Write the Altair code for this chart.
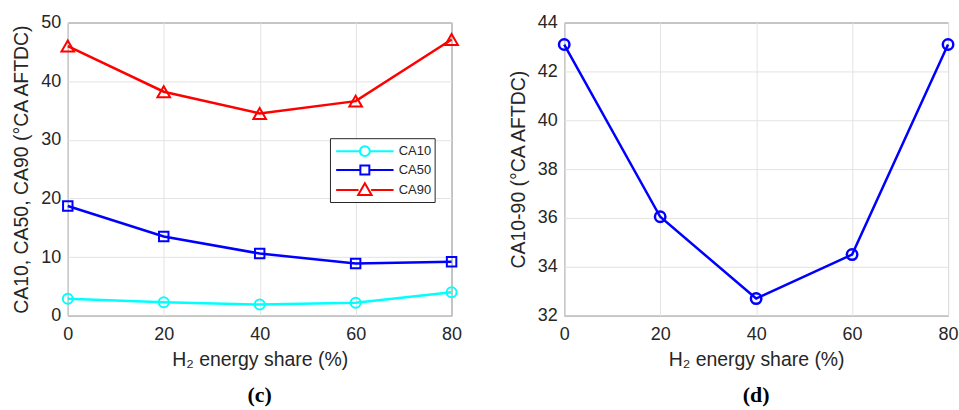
import altair as alt
import pandas as pd

share = [0, 20, 40, 60, 80]
ca10 = [2.9, 2.3, 1.9, 2.2, 4.0]
ca50 = [18.7, 13.5, 10.6, 8.9, 9.2]
ca90 = [46.0, 38.2, 34.5, 36.6, 47.1]
ca10_90 = [43.1, 36.05, 32.7, 34.5, 43.1]

series_names = ["CA10", "CA50", "CA90"]
series_colors = ["#00ffff", "#0000ff", "#ff0000"]
marker_shapes = ["circle", "square", "triangle-up"]
marker_sizes = [100, 90, 160]

# legend symbols: line with marker in the middle (custom SVG paths)
legend_paths = [
    "M-3.2,0L-0.55,0M0.55,0L3.2,0M0.55,0A0.55,0.55,0,1,1,-0.55,0A0.55,0.55,0,1,1,0.55,0Z",
    "M-3.2,0L-0.5,0M0.5,0L3.2,0M-0.5,-0.5L0.5,-0.5L0.5,0.5L-0.5,0.5Z",
    "M-3.2,0L-0.7,0M0.7,0L3.2,0M0,-0.75L0.75,0.55L-0.75,0.55Z",
]

rows = []
for name, vals in zip(series_names, [ca10, ca50, ca90]):
    for s, v in zip(share, vals):
        rows.append({"share": s, "value": v, "series": name, "lg": name})
df_left = pd.DataFrame(rows)
df_right = pd.DataFrame({"share": share, "value": ca10_90})

FONT = "Liberation Sans"
TXT = "#262626"

x_enc = alt.X("share:Q", scale=alt.Scale(domain=[0, 80], nice=False),
              axis=alt.Axis(values=share, title="H₂ energy share (%)", grid=True,
                            labelPadding=10, titlePadding=7))

color_scale = alt.Scale(domain=series_names, range=series_colors)

base_l = alt.Chart(df_left)
y_l = alt.Y("value:Q", scale=alt.Scale(domain=[0, 50], nice=False),
            axis=alt.Axis(values=[0, 10, 20, 30, 40, 50], title="CA10, CA50, CA90 (°CA AFTDC)",
                          labelPadding=7, titlePadding=9))

lines_l = base_l.mark_line(strokeWidth=2.5).encode(
    x=x_enc, y=y_l,
    color=alt.Color("series:N", scale=color_scale, legend=None))

point_layers = []
for name, shp, sz in zip(series_names, marker_shapes, marker_sizes):
    point_layers.append(
        base_l.transform_filter(alt.datum.series == name)
        .mark_point(shape=shp, filled=False, size=sz, strokeWidth=2, opacity=1)
        .encode(x=x_enc, y=y_l, color=alt.Color("series:N", scale=color_scale, legend=None))
    )

leg = alt.Legend(title=None, orient="none", legendX=263, legendY=116,
                 strokeColor=TXT, fillColor="white", padding=3,
                 symbolSize=324, symbolStrokeWidth=2, symbolOffset=22,
                 labelOffset=24, labelFontSize=13, labelFont=FONT,
                 labelColor=TXT, rowPadding=0)

legend_layer = base_l.transform_filter("datum.share < 0").mark_point(
    filled=False, strokeWidth=2, opacity=1
).encode(
    x=x_enc, y=y_l,
    color=alt.Color("lg:N", scale=alt.Scale(domain=series_names, range=series_colors), legend=leg),
    shape=alt.Shape("lg:N", scale=alt.Scale(domain=series_names, range=legend_paths), legend=leg),
)

left = alt.layer(lines_l, *point_layers, legend_layer).resolve_scale(
    color="independent", shape="independent"
).properties(
    width=385, height=294,
    title=alt.TitleParams("(c)", orient="bottom", font="Liberation Serif", fontSize=22,
                          fontWeight="bold", color="black", offset=16),
)

base_r = alt.Chart(df_right)
y_r = alt.Y("value:Q", scale=alt.Scale(domain=[32, 44], nice=False),
            axis=alt.Axis(values=[32, 34, 36, 38, 40, 42, 44], title="CA10-90 (°CA AFTDC)",
                          labelPadding=7, titlePadding=9))
lines_r = base_r.mark_line(strokeWidth=2.5, color="#0000ff").encode(x=x_enc, y=y_r)
pts_r = base_r.mark_point(shape="circle", filled=False, size=110, strokeWidth=2.5,
                          color="#0000ff", opacity=1).encode(x=x_enc, y=y_r)
right = alt.layer(lines_r, pts_r).properties(
    width=385, height=294,
    title=alt.TitleParams("(d)", orient="bottom", font="Liberation Serif", fontSize=22,
                          fontWeight="bold", color="black", offset=16),
)

chart = alt.hconcat(left, right, spacing=45).properties(
    padding={"left": 11, "top": 12, "right": 0, "bottom": 0},
    background="white",
).configure_view(
    stroke="#4d4d4d", strokeWidth=1
).configure_axis(
    labelFont=FONT, titleFont=FONT, labelFontSize=18, titleFontSize=19.5,
    labelColor=TXT, titleColor=TXT, titleFontWeight="normal",
    gridColor="#e3e3e3", gridWidth=1, domain=False, ticks=False,
    labelFlush=False,
)

chart.save("out.html", embed_options={"renderer": "svg", "actions": False})
